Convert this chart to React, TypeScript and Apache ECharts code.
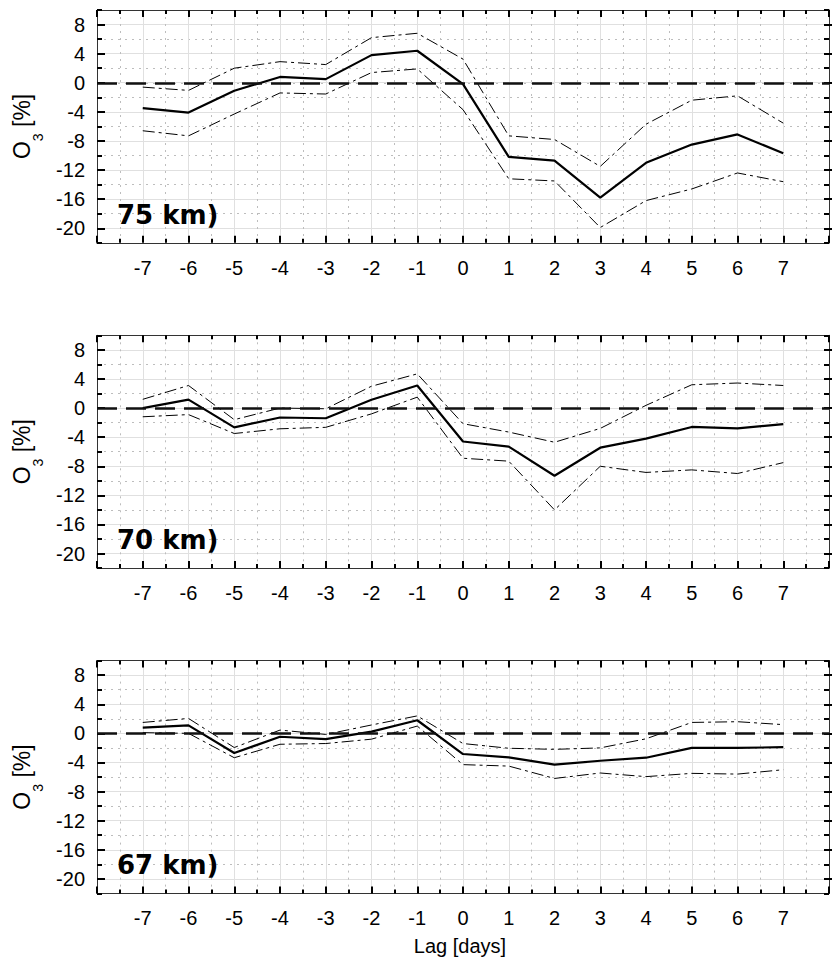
import React, { useEffect, useRef } from 'react';
import * as echarts from 'echarts';

// ---- data ----
const lags = [-7, -6, -5, -4, -3, -2, -1, 0, 1, 2, 3, 4, 5, 6, 7];

const mean75 = [-3.5, -4.1, -1.1, 0.8, 0.5, 3.8, 4.4, -0.2, -10.2, -10.7, -15.8, -11.0, -8.5, -7.1, -9.7];
const upper75 = [-0.6, -1.05, 2.0, 2.9, 2.5, 6.2, 6.8, 3.25, -7.3, -7.8, -11.5, -5.7, -2.4, -1.8, -5.55];
const lower75 = [-6.6, -7.3, -4.3, -1.4, -1.55, 1.4, 1.9, -3.7, -13.2, -13.5, -19.9, -16.2, -14.6, -12.4, -13.6];

const mean70 = [0, 1.15, -2.66, -1.3, -1.4, 1.15, 3.1, -4.6, -5.3, -9.3, -5.45, -4.2, -2.6, -2.8, -2.2];
const upper70 = [1.2, 3.1, -1.6, 0, -0.1, 3.0, 4.7, -2.15, -3.3, -4.7, -2.8, 0.37, 3.2, 3.44, 3.1];
const lower70 = [-1.2, -0.9, -3.5, -2.85, -2.65, -0.8, 1.5, -6.9, -7.3, -14.0, -8.0, -8.85, -8.5, -9.0, -7.5];

const mean67 = [0.8, 1.1, -2.7, -0.47, -0.8, 0.23, 1.8, -2.84, -3.3, -4.3, -3.77, -3.35, -2.0, -2.0, -1.9];
const upper67 = [1.5, 2.05, -1.95, 0.45, -0.15, 1.15, 2.4, -1.4, -2.05, -2.2, -2.0, -0.75, 1.5, 1.6, 1.2];
const lower67 = [0.1, 0, -3.35, -1.5, -1.4, -0.8, 1.0, -4.3, -4.5, -6.2, -5.45, -5.95, -5.5, -5.6, -5.0];

const panelLabels = ['75 km)', '70 km)', '67 km)'];
const yTickLabels = [-20, -16, -12, -8, -4, 0, 4, 8];
const xRange = [-8, 8];
const yRange = [-22, 10];
const xAxisTitle = 'Lag [days]';

// ---- layout ----
const FONT = '"Liberation Sans", Arial, Helvetica, sans-serif';
const LEFT = 97;
const WIDTH = 740;
const TOP0 = 10;
const STEP = 325.3;
const HEIGHT = 232.8;
const PPU = HEIGHT / (yRange[1] - yRange[0]);

const panels = [
  { label: panelLabels[0], mean: mean75, upper: upper75, lower: lower75 },
  { label: panelLabels[1], mean: mean70, upper: upper70, lower: lower70 },
  { label: panelLabels[2], mean: mean67, upper: upper67, lower: lower67 },
];

const toPairs = (arr: number[]) => lags.map((x, i) => [x, arr[i]]);

function buildOption() {
  const grid: any[] = [];
  const xAxis: any[] = [];
  const yAxis: any[] = [];
  const series: any[] = [];
  const graphic: any[] = [];

  panels.forEach((p, k) => {
    const top = TOP0 + k * STEP;
    const gMain = grid.length;
    grid.push({ left: LEFT, top, width: WIDTH, height: HEIGHT, containLabel: false });
    const gOver = grid.length;
    const overTop = top + (yRange[1] - yTickLabels[yTickLabels.length - 1]) * PPU;
    const overH = (yTickLabels[yTickLabels.length - 1] - yTickLabels[0]) * PPU;
    grid.push({ left: LEFT, top: overTop, width: WIDTH, height: overH, containLabel: false });

    const xCommon = {
      type: 'value',
      min: xRange[0],
      max: xRange[1],
      interval: 1,
      axisLine: { show: true, onZero: false, lineStyle: { color: '#333', width: 1 } },
      axisTick: { show: true, inside: true, length: 7, lineStyle: { color: '#000', width: 2 } },
      minorTick: { show: true, splitNumber: 2, length: 4, lineStyle: { color: '#000', width: 2 } },
    };
    const xiMain = xAxis.length;
    xAxis.push({
      ...xCommon,
      gridIndex: gMain,
      position: 'bottom',
      axisLabel: {
        show: true,
        margin: 15,
        fontSize: 20,
        fontFamily: FONT,
        color: '#000',
        formatter: (v: number) => (v <= xRange[0] || v >= xRange[1] ? '' : String(v)),
      },
      splitLine: { show: true, lineStyle: { color: '#e0e0e0', width: 1 } },
      minorSplitLine: { show: true, lineStyle: { color: '#bdbdbd', width: 1, type: [2, 5] } },
    });
    xAxis.push({
      ...xCommon,
      gridIndex: gMain,
      position: 'top',
      axisLabel: { show: false },
      splitLine: { show: false },
      minorSplitLine: { show: false },
    });
    xAxis.push({
      type: 'value',
      gridIndex: gOver,
      min: xRange[0],
      max: xRange[1],
      show: false,
      axisLine: { show: false, onZero: false },
    });

    const yMainCommon = {
      type: 'value',
      gridIndex: gMain,
      min: yRange[0],
      max: yRange[1],
      interval: 2,
      axisLine: { show: true, onZero: false, lineStyle: { color: '#333', width: 1 } },
      axisTick: { show: true, inside: true, length: 5, lineStyle: { color: '#000', width: 2 } },
      axisLabel: { show: false },
    };
    const yiMain = yAxis.length;
    yAxis.push({
      ...yMainCommon,
      position: 'left',
      splitLine: { show: true, lineStyle: { color: '#bdbdbd', width: 1, type: [2, 5] } },
    });
    yAxis.push({ ...yMainCommon, position: 'right', splitLine: { show: false } });

    const yOverCommon = {
      type: 'value',
      gridIndex: gOver,
      min: yTickLabels[0],
      max: yTickLabels[yTickLabels.length - 1],
      interval: 4,
      axisLine: { show: false, onZero: false },
      axisTick: { show: true, inside: true, length: 8, lineStyle: { color: '#000', width: 2 } },
    };
    yAxis.push({
      ...yOverCommon,
      position: 'left',
      axisLabel: { show: true, margin: 12, fontSize: 20, fontFamily: FONT, color: '#000' },
      splitLine: { show: true, lineStyle: { color: '#e0e0e0', width: 1 } },
      name: '{m|O}{s|3}{m| [%]}',
      nameLocation: 'middle',
      nameRotate: 90,
      nameGap: 55,
      nameTextStyle: {
        rich: {
          m: { fontSize: 23, fontFamily: FONT, color: '#000', lineHeight: 23, verticalAlign: 'top' },
          s: { fontSize: 14, fontFamily: FONT, color: '#000', lineHeight: 14, verticalAlign: 'top', padding: [21, 0, 0, 0] },
        },
      },
    });
    yAxis.push({ ...yOverCommon, position: 'right', axisLabel: { show: false }, splitLine: { show: false } });

    series.push({
      type: 'line',
      xAxisIndex: xiMain,
      yAxisIndex: yiMain,
      data: toPairs(p.upper),
      symbol: 'none',
      silent: true,
      lineStyle: { color: '#000', width: 1, type: [12, 4, 3, 4] },
    });
    series.push({
      type: 'line',
      xAxisIndex: xiMain,
      yAxisIndex: yiMain,
      data: toPairs(p.lower),
      symbol: 'none',
      silent: true,
      lineStyle: { color: '#000', width: 1, type: [12, 4, 3, 4] },
    });
    series.push({
      type: 'line',
      xAxisIndex: xiMain,
      yAxisIndex: yiMain,
      data: toPairs(p.mean),
      symbol: 'none',
      silent: true,
      lineStyle: { color: '#000', width: 2.2 },
      markLine: {
        silent: true,
        symbol: 'none',
        label: { show: false },
        lineStyle: { color: '#111', width: 2.5, type: [20, 9] },
        data: [{ yAxis: 0 }],
      },
    });

    graphic.push({
      type: 'text',
      x: 117,
      y: 215 + k * 325,
      style: {
        text: p.label,
        fontFamily: '"DejaVu Sans", sans-serif',
        fontWeight: 'bold',
        fontSize: 26,
        fill: '#000',
        align: 'left',
        verticalAlign: 'middle',
      },
      z: 10,
    });
  });

  graphic.push({
    type: 'text',
    x: 460,
    y: 946,
    style: {
      text: xAxisTitle,
      fontFamily: FONT,
      fontSize: 20,
      fill: '#000',
      align: 'center',
      verticalAlign: 'middle',
    },
  });

  return {
    animation: false,
    backgroundColor: '#fff',
    grid,
    xAxis,
    yAxis,
    series,
    graphic,
  };
}

export default function App() {
  const ref = useRef<HTMLDivElement>(null);
  useEffect(() => {
    if (!ref.current) return;
    const chart = echarts.init(ref.current, undefined, { renderer: 'svg' });
    chart.setOption(buildOption() as any);
    return () => chart.dispose();
  }, []);
  return (
    <div
      ref={ref}
      style={{ position: 'absolute', left: 0, top: 0, width: 832, height: 961, background: '#fff' }}
    />
  );
}
